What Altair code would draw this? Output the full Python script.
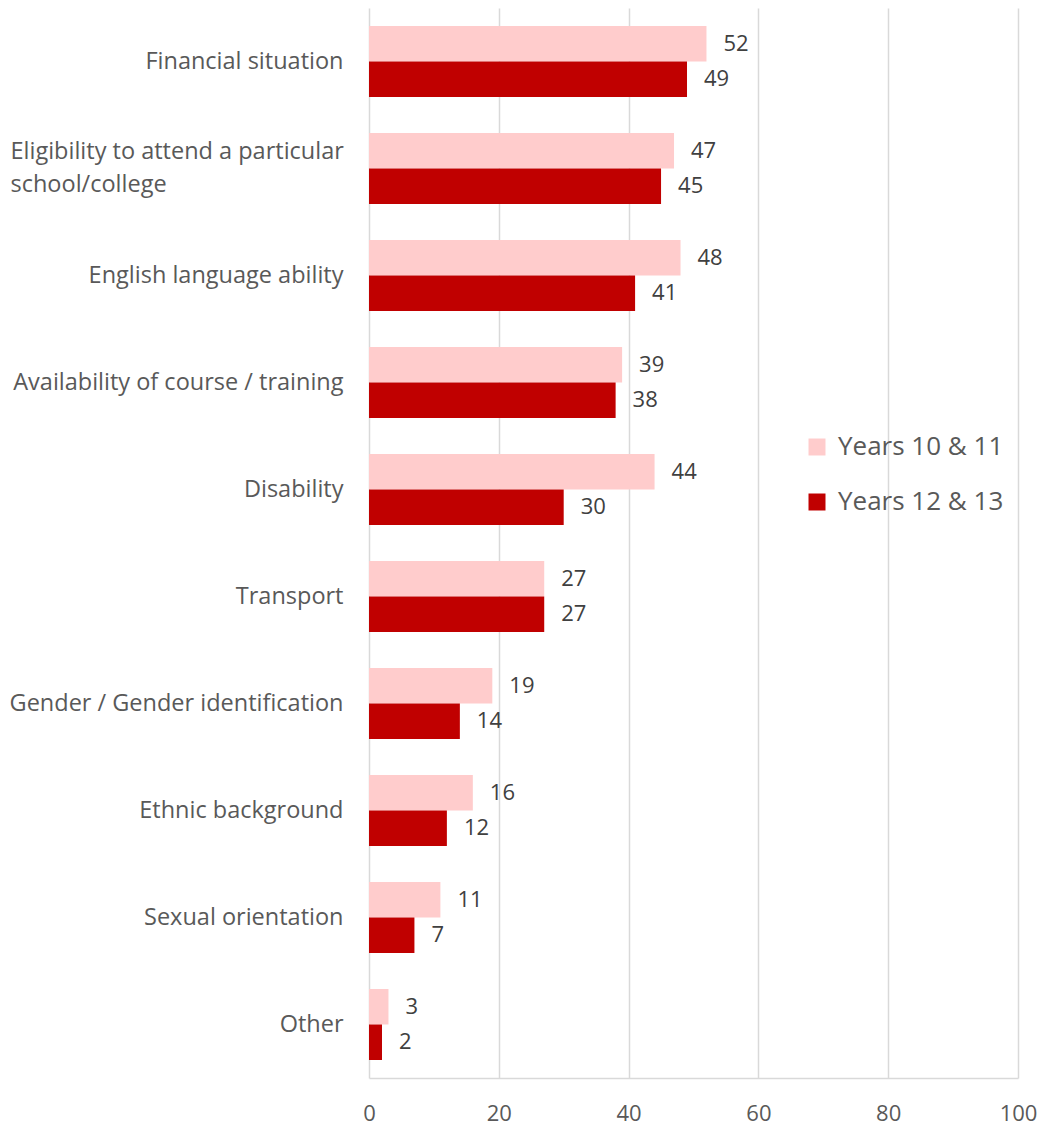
import altair as alt
import pandas as pd

categories = [
    "Financial situation",
    "Eligibility to attend a particular school/college",
    "English language ability",
    "Availability of course / training",
    "Disability",
    "Transport",
    "Gender / Gender identification",
    "Ethnic background",
    "Sexual orientation",
    "Other",
]
series = ["Years 10 & 11", "Years 12 & 13"]
years_10_11 = [52, 47, 48, 39, 44, 27, 19, 16, 11, 3]
years_12_13 = [49, 45, 41, 38, 30, 27, 14, 12, 7, 2]
colors = ["#FFCCCC", "#C00000"]
x_ticks = [0, 20, 40, 60, 80, 100]

rows = []
for c, a, b in zip(categories, years_10_11, years_12_13):
    rows.append({"category": c, "series": series[0], "value": a})
    rows.append({"category": c, "series": series[1], "value": b})
df = pd.DataFrame(rows)

FONT = "Open Sans"
LONG = "Eligibility to attend a particular school/college"
IS_LONG = f"datum.value == '{LONG}'"

y_enc = alt.Y(
    "category:N",
    sort=categories,
    scale=alt.Scale(paddingInner=0.336, paddingOuter=0.168),
    axis=alt.Axis(
        title=None,
        domain=False,
        ticks=False,
        labelFont=FONT,
        labelFontSize=23.5,
        labelColor="#595959",
        labelPadding={"condition": {"test": IS_LONG, "value": 359}, "value": 26},
        labelAlign={"condition": {"test": IS_LONG, "value": "left"}, "value": "right"},
        labelLimit=400,
        labelLineHeight=33,
        labelOffset={"condition": {"test": IS_LONG, "value": -16.5}, "value": 0},
        minExtent=361,
        maxExtent=361,
        labelExpr=f"{IS_LONG} ? ['Eligibility to attend a particular', 'school/college'] : datum.value",
    ),
)
yoff = alt.YOffset("series:N", sort=series)

bars = alt.Chart(df).mark_bar().encode(
    x=alt.X(
        "value:Q",
        scale=alt.Scale(domain=[0, 100], nice=False),
        axis=alt.Axis(
            title=None,
            values=x_ticks,
            grid=True,
            gridColor="#d9d9d9",
            gridWidth=1.5,
            domainColor="#d9d9d9",
            domainWidth=1.5,
            ticks=False,
            labelFlush=False,
            labelFont=FONT,
            labelFontSize=22,
            labelColor="#595959",
            labelPadding=25,
        ),
    ),
    y=y_enc,
    yOffset=yoff,
    color=alt.Color(
        "series:N",
        sort=series,
        scale=alt.Scale(domain=series, range=colors),
        legend=alt.Legend(
            title=None,
            orient="none",
            legendX=435,
            legendY=426,
            symbolType="square",
            symbolSize=289,
            symbolStrokeWidth=0,
            labelFont=FONT,
            labelFontSize=26,
            labelColor="#595959",
            labelOffset=8,
            labelLimit=400,
            rowPadding=29,
            padding=0,
        ),
    ),
)

labels = alt.Chart(df).mark_text(
    align="left", baseline="middle", dx=17, font=FONT, fontSize=22, color="#404040"
).encode(
    x="value:Q",
    y=alt.Y("category:N", sort=categories),
    yOffset=yoff,
    text="value:Q",
)

chart = (
    alt.layer(bars, labels)
    .properties(
        width=649,
        height=1070,
        padding={"left": 0, "top": 0, "right": 0, "bottom": 6},
    )
    .configure_view(strokeWidth=0)
)

chart.save("out.html", embed_options={"renderer": "svg", "actions": False})
